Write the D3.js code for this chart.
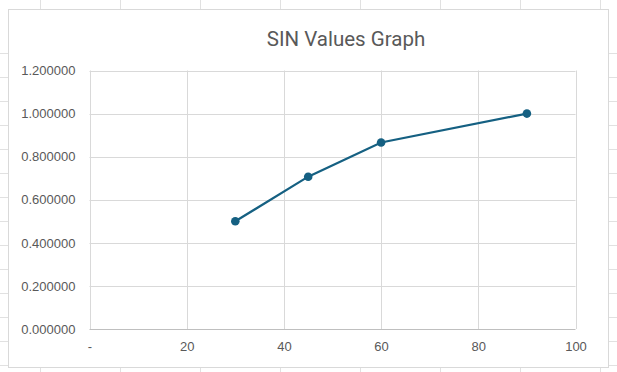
<!DOCTYPE html>
<html>
<head>
<meta charset="utf-8">
<script src="https://cdn.jsdelivr.net/npm/d3@7"></script>
<style>
  body { margin: 0; background: #fff; }
  svg { display: block; }
</style>
</head>
<body>
<script>
// data
const angles = [30, 45, 60, 90];
const sinValues = [0.5, 0.707107, 0.866025, 1.0];
const xTicks = [0, 20, 40, 60, 80, 100];
const yTicks = [0, 0.2, 0.4, 0.6, 0.8, 1.0, 1.2];
const title = 'SIN Values Graph';

const w = 617,
      h = 372;

const svg = d3.select('body')
            .append('svg')
            .attr('width', w)
            .attr('height', h);

// spreadsheet cells behind the chart
const colLines = d3.range(40, w, 80);
const rowLines = d3.range(53, h, 24);
svg.selectAll('.col')
    .data(colLines)
    .enter()
    .append('line')
    .attr('x1', (d) => d + 0.5).attr('x2', (d) => d + 0.5)
    .attr('y1', 0).attr('y2', h)
    .attr('stroke', '#e1e1e1');
svg.selectAll('.row')
    .data(rowLines)
    .enter()
    .append('line')
    .attr('x1', 0).attr('x2', w)
    .attr('y1', (d) => d + 0.5).attr('y2', (d) => d + 0.5)
    .attr('stroke', '#e1e1e1');

// chart box
svg.append('rect')
    .attr('x', 8.5)
    .attr('y', 9.5)
    .attr('width', 600)
    .attr('height', 358)
    .attr('fill', '#fff')
    .attr('stroke', '#d9d9d9');

const pLeft = 89.5, pRight = 575.5, pTop = 70.5, pBottom = 329;

const xScale = d3.scaleLinear()
                .domain([0, 100])
                .range([pLeft, pRight]);
const yScale = d3.scaleLinear()
                .domain([0, 1.2])
                .range([pBottom, pTop]);

// gridlines
svg.append('g')
    .selectAll('line')
    .data(yTicks)
    .enter()
    .append('line')
    .attr('x1', pLeft).attr('x2', pRight)
    .attr('y1', (d) => Math.round(yScale(d)) + 0.5)
    .attr('y2', (d) => Math.round(yScale(d)) + 0.5)
    .attr('stroke', (d) => d === 0 ? '#bfbfbf' : '#d9d9d9');
svg.append('g')
    .selectAll('line')
    .data(xTicks)
    .enter()
    .append('line')
    .attr('x1', (d) => Math.round(xScale(d)) + 0.5)
    .attr('x2', (d) => Math.round(xScale(d)) + 0.5)
    .attr('y1', pTop).attr('y2', pBottom)
    .attr('stroke', '#d9d9d9');

// axes (labels only)
const yAxis = d3.axisLeft(yScale)
                .tickValues(yTicks)
                .tickFormat(d3.format('.6f'))
                .tickSize(0)
                .tickPadding(14);
const xAxis = d3.axisBottom(xScale)
                .tickValues(xTicks)
                .tickFormat((d) => d === 0 ? '-' : d)
                .tickSize(0)
                .tickPadding(13);

svg.append('g')
    .attr('transform', 'translate(' + pLeft + ',0)')
    .call(yAxis);
svg.append('g')
    .attr('transform', 'translate(0,' + pBottom + ')')
    .call(xAxis);

svg.selectAll('.domain').remove();
svg.selectAll('.tick text')
    .attr('fill', '#595959')
    .attr('font-family', 'Liberation Sans, Arial, sans-serif')
    .attr('font-size', 13);

// series
const pts = angles.map((a, i) => [a, sinValues[i]]);
const line = d3.line()
                .x((d) => xScale(d[0]))
                .y((d) => yScale(d[1]));

svg.append('path')
    .datum(pts)
    .attr('d', line)
    .attr('fill', 'none')
    .attr('stroke', '#156082')
    .attr('stroke-width', 2.2);

svg.selectAll('.dot')
    .data(pts)
    .enter()
    .append('circle')
    .attr('cx', (d) => xScale(d[0]))
    .attr('cy', (d) => yScale(d[1]))
    .attr('r', 4.3)
    .attr('fill', '#156082');

// title
svg.append('text')
    .attr('x', 346)
    .attr('y', 46)
    .attr('text-anchor', 'middle')
    .attr('fill', '#595959')
    .attr('font-family', 'Roboto, sans-serif')
    .attr('font-size', 20.5)
    .text(title);
</script>
</body>
</html>
